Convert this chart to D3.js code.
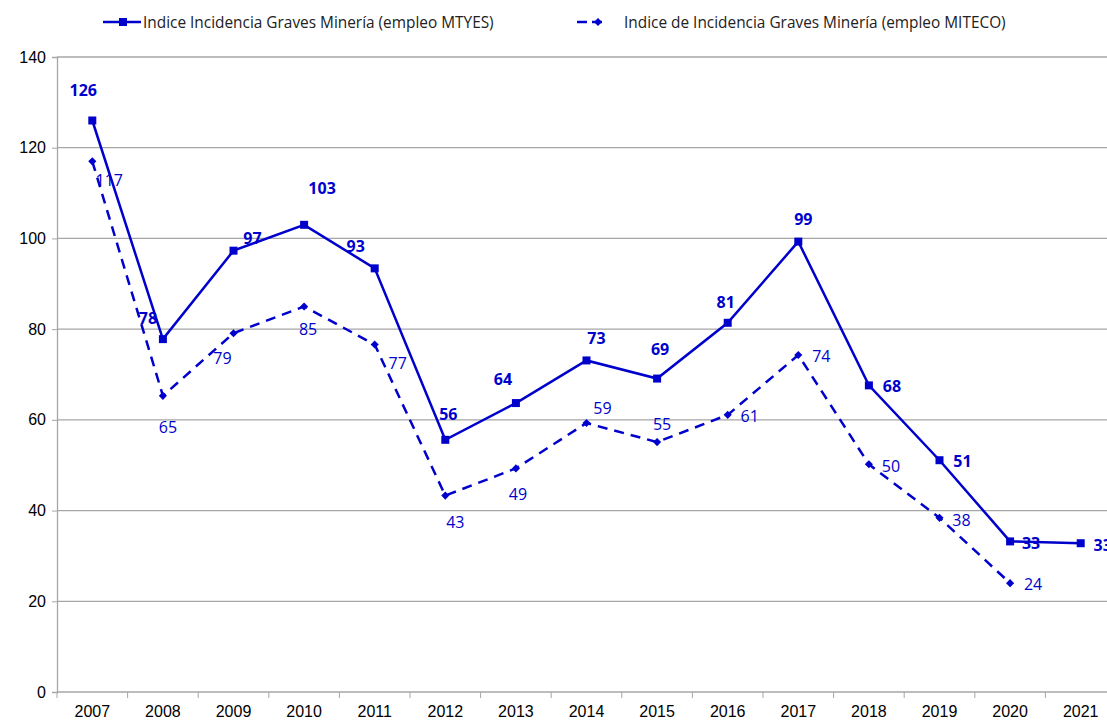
<!DOCTYPE html>
<html>
<head>
<meta charset="utf-8">
<script src="https://cdn.jsdelivr.net/npm/d3@7"></script>
<style>
  body { margin: 0; background: #fff; }
  svg { display: block; font-family: "Open Sans", "Noto Sans", sans-serif; }
</style>
</head>
<body>
<div id="chart"></div>
<script>
var years = ["2007", "2008", "2009", "2010", "2011", "2012", "2013", "2014", "2015", "2016", "2017", "2018", "2019", "2020", "2021"];
var mtyes = [126, 77.8, 97.3, 103, 93.4, 55.6, 63.7, 73.1, 69.1, 81.4, 99.3, 67.6, 51.1, 33.2, 32.8];
var miteco = [117, 65.3, 79.1, 85, 76.6, 43.3, 49.3, 59.3, 55.1, 61.1, 74.3, 50.2, 38.4, 24, null];
var yTicks = [0, 20, 40, 60, 80, 100, 120, 140];
var seriesNames = ["Indice Incidencia Graves Minería (empleo MTYES)", "Indice de Incidencia Graves Minería (empleo MITECO)"];

var width = 1107, height = 724,
  margin = {top: 57, right: 0, bottom: 32, left: 57};
var blue = "#0000cc", grid = "#a6a6a6";

// label placement offsets (px) relative to the point, as Excel put them
var offA = [[-9, -31], [-15, -21], [19, -13], [18, -37], [-19, -22], [3, -26], [-13, -24], [10, -22], [3, -30], [-2, -21], [5, -23], [23, 1], [23, 1], [21, 2], [22, 2]];
var offB = [[17, 19], [5, 31], [-11, 25], [4, 23], [23, 18], [10, 26], [2, 26], [16, -15], [5, -18], [22, 1], [23, 1], [22, 2], [22, 2], [23, 1], [0, 0]];

var svg = d3.select("#chart").append("svg")
  .attr("width", width)
  .attr("height", height);

var x = d3.scaleBand()
  .domain(years)
  .range([margin.left, margin.left + years.length * 70.6]);

var y = d3.scaleLinear()
  .domain([0, 140])
  .range([692, margin.top]);

var cx = function (d, i) { return x(years[i]) + x.bandwidth() / 2; };
var diamond = d3.symbol().type(d3.symbolDiamond2).size(42);

// gridlines
svg.append("g")
  .selectAll("line")
  .data(yTicks.slice(1))
  .enter().append("line")
  .attr("x1", margin.left).attr("x2", width)
  .attr("y1", function (d) { return y(d); })
  .attr("y2", function (d) { return y(d); })
  .attr("stroke", grid)
  .attr("stroke-width", 1.3);

// y axis
var yAxis = svg.append("g")
  .attr("transform", "translate(" + margin.left + ",0)")
  .call(d3.axisLeft(y).tickValues(yTicks).tickSize(5).tickPadding(6));
yAxis.select(".domain").attr("stroke", grid).attr("stroke-width", 1.3);
yAxis.selectAll(".tick line").attr("stroke", grid);
yAxis.selectAll("text").attr("font-size", 16).attr("fill", "#000");

// x axis
var xAxis = svg.append("g")
  .attr("transform", "translate(0," + y(0) + ")")
  .call(d3.axisBottom(x).tickSize(0).tickPadding(14));
xAxis.select(".domain").remove();
xAxis.selectAll("text").attr("font-size", 16).attr("fill", "#000");
xAxis.append("line")
  .attr("x1", margin.left).attr("x2", width)
  .attr("stroke", grid).attr("stroke-width", 1.3);
xAxis.selectAll(".sep")
  .data(years)
  .enter().append("line")
  .attr("class", "sep")
  .attr("x1", function (d) { return x(d); })
  .attr("x2", function (d) { return x(d); })
  .attr("y1", 0).attr("y2", 6)
  .attr("stroke", grid);

var line = d3.line()
  .defined(function (d) { return d != null; })
  .x(cx)
  .y(function (d) { return y(d); });

// MITECO series (dashed)
svg.append("path")
  .datum(miteco)
  .attr("fill", "none")
  .attr("stroke", blue)
  .attr("stroke-width", 2.5)
  .attr("stroke-dasharray", "10,7")
  .attr("d", line);

svg.append("g").selectAll("path")
  .data(miteco)
  .enter().filter(function (d) { return d != null; })
  .append("path")
  .attr("d", diamond)
  .attr("transform", function (d, i) { return "translate(" + cx(d, i) + "," + y(d) + ")"; })
  .attr("fill", blue);

// MTYES series (solid)
svg.append("path")
  .datum(mtyes)
  .attr("fill", "none")
  .attr("stroke", blue)
  .attr("stroke-width", 2.5)
  .attr("d", line);

svg.append("g").selectAll("rect")
  .data(mtyes)
  .enter().append("rect")
  .attr("x", function (d, i) { return cx(d, i) - 4; })
  .attr("y", function (d) { return y(d) - 4; })
  .attr("width", 8).attr("height", 8)
  .attr("fill", blue);

// data labels
svg.append("g").selectAll("text")
  .data(miteco)
  .enter().filter(function (d) { return d != null; })
  .append("text")
  .attr("x", function (d, i) { return cx(d, i) + offB[i][0]; })
  .attr("y", function (d, i) { return y(d) + offB[i][1]; })
  .attr("text-anchor", "middle")
  .attr("dominant-baseline", "central")
  .attr("font-size", 16)
  .attr("fill", blue)
  .text(function (d) { return Math.round(d); });

svg.append("g").selectAll("text")
  .data(mtyes)
  .enter().append("text")
  .attr("x", function (d, i) { return cx(d, i) + offA[i][0]; })
  .attr("y", function (d, i) { return y(d) + offA[i][1]; })
  .attr("text-anchor", "middle")
  .attr("dominant-baseline", "central")
  .attr("font-size", 16)
  .attr("font-weight", "bold")
  .attr("fill", blue)
  .text(function (d) { return Math.round(d); });

// legend
var leg = svg.append("g").attr("transform", "translate(0,22)");
leg.append("line").attr("x1", 103).attr("x2", 141).attr("stroke", blue).attr("stroke-width", 2.5);
leg.append("rect").attr("x", 119).attr("y", -4).attr("width", 8).attr("height", 8).attr("fill", blue);
leg.append("text").attr("x", 143).attr("dominant-baseline", "central")
  .attr("font-size", 15.4).attr("fill", "#222").text(seriesNames[0]);
leg.append("line").attr("x1", 577).attr("x2", 587).attr("stroke", blue).attr("stroke-width", 2.5);
leg.append("line").attr("x1", 592).attr("x2", 602).attr("stroke", blue).attr("stroke-width", 2.5);
leg.append("path").attr("d", diamond)
  .attr("transform", "translate(598,0)").attr("fill", blue);
leg.append("text").attr("x", 624).attr("dominant-baseline", "central")
  .attr("font-size", 15.4).attr("fill", "#222").text(seriesNames[1]);
</script>
</body>
</html>
